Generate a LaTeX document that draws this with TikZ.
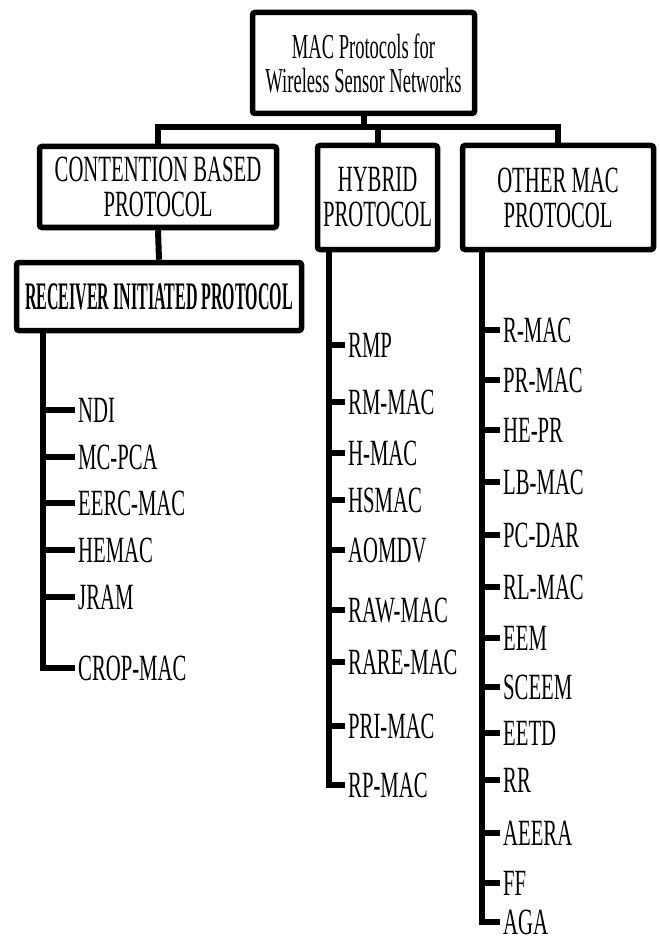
\documentclass[tikz,border=0pt]{standalone}
\usepackage{fontspec}
\setmainfont{Liberation Serif}
\newfontfamily\condfont[FakeStretch=0.56]{Liberation Serif}
\newfontfamily\topfont[FakeStretch=0.53]{Liberation Serif}
\newfontfamily\narrowfont[FakeStretch=0.41]{Liberation Serif}
\begin{document}
\begin{tikzpicture}[x=1pt,y=-1pt,
  box/.style={draw, line width=5.5pt, rounded corners=2.5pt, inner sep=0pt, align=center,
    font=\condfont\fontsize{37}{35}\selectfont},
  conn/.style={line width=6pt},
  item/.style={anchor=west, inner xsep=3pt, inner ysep=0pt,
    font=\condfont\fontsize{37}{40}\selectfont, text height=24.5pt, text depth=0pt},
]
\useasboundingbox[fill=white] (0,0) rectangle (660,941);

% boxes
\node[box, minimum width=222pt, minimum height=101pt, font=\topfont\fontsize{35}{34}\selectfont]
  (top) at (363.5,63) {MAC Protocols for\\Wireless Sensor Networks};
\node[box, minimum width=237pt, minimum height=81pt] (cont) at (158,187) {CONTENTION BASED\\PROTOCOL};
\node[box, minimum width=285pt, minimum height=68pt, font=\narrowfont\bfseries\fontsize{39}{40}\selectfont]
  (recv) at (159,296.5) {RECEIVER INITIATED PROTOCOL};
\node[box, minimum width=120pt, minimum height=104pt] (hyb) at (377.5,197.5) {HYBRID\\PROTOCOL};
\node[box, minimum width=191pt, minimum height=104pt] (oth) at (558,197.5) {OTHER MAC\\PROTOCOL};

% upper connectors
\coordinate (bar) at (0,127);
\draw[conn] (top.south) -- (top.south |- bar);
\draw[conn] (cont.north) |- (oth.north |- bar) -- (oth.north);
\draw[conn] (hyb.north |- bar) -- (hyb.north);
\draw[conn] (cont.south) -- (recv.north);

% receiver initiated list
\coordinate (rt) at (43,0);
\node[item] (ndi)  at (75,410) {NDI};
\node[item] (mcpca) at (75,457) {MC-PCA};
\node[item] (eerc) at (75,503) {EERC-MAC};
\node[item] (hemac) at (75,550) {HEMAC};
\node[item] (jram) at (75,597) {JRAM};
\node[item] (crop) at (75,668) {CROP-MAC};
\draw[conn] (recv.south -| rt) |- (crop.west);
\foreach \n in {ndi,mcpca,eerc,hemac,jram}
  \draw[conn] (rt |- \n.west) -- (\n.west);

% hybrid list
\coordinate (ht) at (329,0);
\node[item] (rmp)   at (345,345) {RMP};
\node[item] (rmmac) at (345,402) {RM-MAC};
\node[item] (hmac)  at (345,453) {H-MAC};
\node[item] (hsmac) at (345,500) {HSMAC};
\node[item] (aomdv) at (345,550) {AOMDV};
\node[item] (raw)   at (345,610) {RAW-MAC};
\node[item] (rare)  at (345,662) {RARE-MAC};
\node[item] (pri)   at (345,726) {PRI-MAC};
\node[item] (rp)    at (345,785) {RP-MAC};
\draw[conn] (hyb.south -| ht) |- (rp.west);
\foreach \n in {rmp,rmmac,hmac,hsmac,aomdv,raw,rare,pri}
  \draw[conn] (ht |- \n.west) -- (\n.west);

% other list
\coordinate (ot) at (482,0);
\node[item] (rmac)  at (500,330) {R-MAC};
\node[item] (prmac) at (500,380) {PR-MAC};
\node[item] (hepr)  at (500,430) {HE-PR};
\node[item] (lbmac) at (500,482) {LB-MAC};
\node[item] (pcdar) at (500,535) {PC-DAR};
\node[item] (rlmac) at (500,587) {RL-MAC};
\node[item] (eem)   at (500,638) {EEM};
\node[item] (sceem) at (500,687) {SCEEM};
\node[item] (eetd)  at (500,733) {EETD};
\node[item] (rr)    at (500,780) {RR};
\node[item] (aeera) at (500,833) {AEERA};
\node[item] (ff)    at (500,883) {FF};
\node[item] (aga)   at (500,922) {AGA};
\draw[conn] (oth.south -| ot) |- (aga.west);
\foreach \n in {rmac,prmac,hepr,lbmac,pcdar,rlmac,eem,sceem,eetd,rr,aeera,ff}
  \draw[conn] (ot |- \n.west) -- (\n.west);
\end{tikzpicture}
\end{document}
